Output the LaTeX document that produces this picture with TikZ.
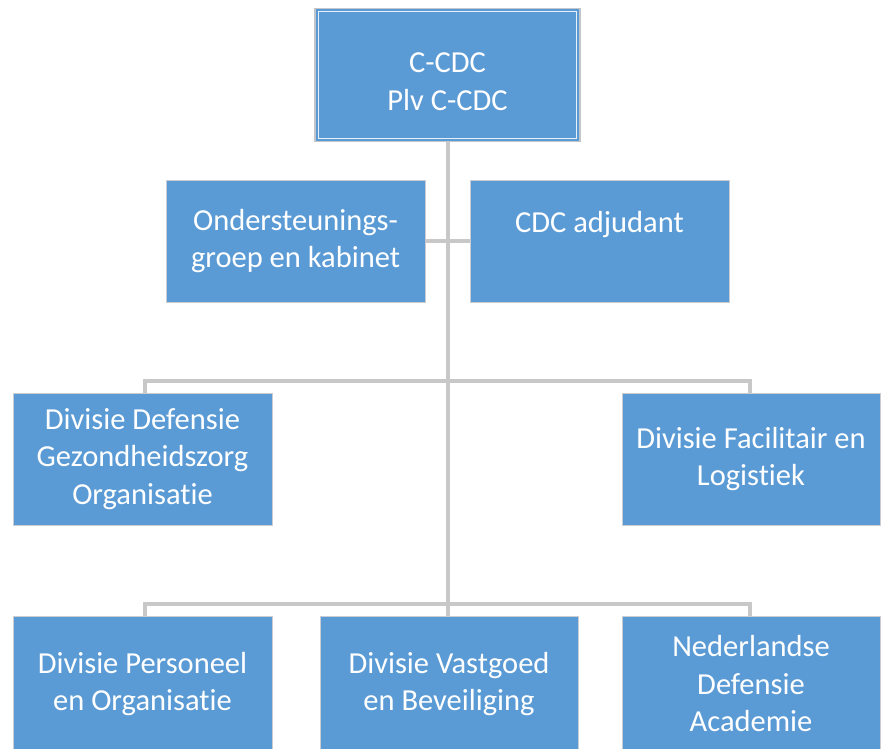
\documentclass[tikz,border=0pt]{standalone}
\usepackage{fontspec}
\setmainfont{Carlito}[RawFeature={-liga;-clig;-dlig}]
\definecolor{boxblue}{HTML}{5B9BD5}
\definecolor{conngray}{HTML}{C8C8C8}
\definecolor{edgegray}{HTML}{C9CDD2}
\begin{document}
\begin{tikzpicture}[x=1pt,y=-1pt,
  box/.style={fill=boxblue, draw=edgegray, line width=0.8pt, text=white,
    align=center, inner sep=0pt, font=\fontsize{30.5}{37.5}\selectfont},
  conn/.style={draw=conngray, line width=4pt}]
\clip (0,0) rectangle (881,748);
\fill[white] (0,0) rectangle (881,748);
% nodes
\node[box, minimum width=265pt, minimum height=133pt, draw=edgegray!90!gray, line width=1.2pt] (top) at (447.5,75) {\rule{0pt}{33pt}C-CDC\\Plv C-CDC};
\draw[white!85!boxblue, line width=1pt] ([xshift=4pt,yshift=-4pt]top.north west) rectangle ([xshift=-4pt,yshift=4pt]top.south east);
\coordinate (j1) at (447.5,381);
\coordinate (j2) at (447.5,604);
\node[box, minimum width=259pt, minimum height=122pt] (ogk) at (295.5,241) {Ondersteunings-\\groep en kabinet};
\node[box, minimum width=259pt, minimum height=122pt] (adj) at (599.5,241) {CDC adjudant\\\mbox{}};
\node[box, minimum width=259pt, minimum height=132pt] (ddgo) at (142.5,459) {Divisie Defensie\\Gezondheidszorg\\Organisatie};
\node[box, minimum width=258pt, minimum height=132pt] (dfl) at (751,459) {Divisie Facilitair en\\Logistiek};
\node[box, minimum width=259pt, minimum height=136pt] (dpo) at (142.5,684) {Divisie Personeel\\en Organisatie};
\node[box, minimum width=258pt, minimum height=136pt] (dvb) at (449,684) {Divisie Vastgoed\\en Beveiliging};
\node[box, minimum width=258pt, minimum height=136pt] (nlda) at (751,684) {Nederlandse\\Defensie\\Academie};
% connectors
\draw[conn] (top.south) -- (j2);
\draw[conn] (ogk.east) -- (adj.west);
\draw[conn] ([xshift=2.5pt]ddgo.north) |- (j1) -| ([xshift=-1pt]dfl.north);
\draw[conn] ([xshift=2.5pt]dpo.north) |- (j2) -| ([xshift=-1pt]nlda.north);
\draw[conn] ([xshift=-1.5pt]dvb.north) -- ([xshift=-1.5pt]dvb.north |- j2);
\end{tikzpicture}
\end{document}
